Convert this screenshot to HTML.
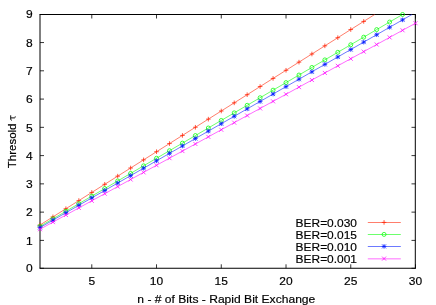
<!DOCTYPE html>
<html><head><meta charset="utf-8"><title>chart</title><style>
html,body{margin:0;padding:0;background:#fff;}
svg{display:block;}
text{font-family:"Liberation Sans",sans-serif;font-size:12px;fill:#000;stroke:#000;stroke-width:0.18px;}
</style></head><body>
<svg style="will-change:transform" width="436" height="305" viewBox="0 0 436 305">
<rect width="436" height="305" fill="#fff"/>
<path d="M39.5 14.5H415.8M39.5 268.25H415.8M40.0 14.5V268.3M415.3 14.5V268.3" stroke="#000" stroke-width="1" fill="none"/>
<path d="M40.0 268.30h4.0M415.5 268.30h-4.0" stroke="#000" stroke-width="0.8" fill="none"/>
<text transform="translate(32.60 272.10) scale(1.0 0.98)" text-anchor="end">0</text>
<path d="M40.0 240.40h4.0M415.5 240.40h-4.0" stroke="#000" stroke-width="0.8" fill="none"/>
<text transform="translate(32.60 244.70) scale(1.0 0.98)" text-anchor="end">1</text>
<path d="M40.0 212.13h4.0M415.5 212.13h-4.0" stroke="#000" stroke-width="0.8" fill="none"/>
<text transform="translate(32.60 216.43) scale(1.0 0.98)" text-anchor="end">2</text>
<path d="M40.0 183.87h4.0M415.5 183.87h-4.0" stroke="#000" stroke-width="0.8" fill="none"/>
<text transform="translate(32.60 188.17) scale(1.0 0.98)" text-anchor="end">3</text>
<path d="M40.0 155.60h4.0M415.5 155.60h-4.0" stroke="#000" stroke-width="0.8" fill="none"/>
<text transform="translate(32.60 159.90) scale(1.0 0.98)" text-anchor="end">4</text>
<path d="M40.0 127.34h4.0M415.5 127.34h-4.0" stroke="#000" stroke-width="0.8" fill="none"/>
<text transform="translate(32.60 131.64) scale(1.0 0.98)" text-anchor="end">5</text>
<path d="M40.0 99.08h4.0M415.5 99.08h-4.0" stroke="#000" stroke-width="0.8" fill="none"/>
<text transform="translate(32.60 103.38) scale(1.0 0.98)" text-anchor="end">6</text>
<path d="M40.0 70.81h4.0M415.5 70.81h-4.0" stroke="#000" stroke-width="0.8" fill="none"/>
<text transform="translate(32.60 75.11) scale(1.0 0.98)" text-anchor="end">7</text>
<path d="M40.0 42.55h4.0M415.5 42.55h-4.0" stroke="#000" stroke-width="0.8" fill="none"/>
<text transform="translate(32.60 46.85) scale(1.0 0.98)" text-anchor="end">8</text>
<path d="M40.0 14.50h4.0M415.5 14.50h-4.0" stroke="#000" stroke-width="0.8" fill="none"/>
<text transform="translate(32.60 18.40) scale(1.0 0.98)" text-anchor="end">9</text>
<path d="M91.79 268.3v-4.0M91.79 14.5v4.0" stroke="#000" stroke-width="0.8" fill="none"/>
<text transform="translate(91.79 285.00) scale(1.0 0.98)" text-anchor="middle">5</text>
<path d="M156.53 268.3v-4.0M156.53 14.5v4.0" stroke="#000" stroke-width="0.8" fill="none"/>
<text transform="translate(156.53 285.00) scale(1.0 0.98)" text-anchor="middle">10</text>
<path d="M221.28 268.3v-4.0M221.28 14.5v4.0" stroke="#000" stroke-width="0.8" fill="none"/>
<text transform="translate(221.28 285.00) scale(1.0 0.98)" text-anchor="middle">15</text>
<path d="M286.02 268.3v-4.0M286.02 14.5v4.0" stroke="#000" stroke-width="0.8" fill="none"/>
<text transform="translate(286.02 285.00) scale(1.0 0.98)" text-anchor="middle">20</text>
<path d="M350.76 268.3v-4.0M350.76 14.5v4.0" stroke="#000" stroke-width="0.8" fill="none"/>
<text transform="translate(350.76 285.00) scale(1.0 0.98)" text-anchor="middle">25</text>
<path d="M415.50 268.3v-4.0M415.50 14.5v4.0" stroke="#000" stroke-width="0.8" fill="none"/>
<text transform="translate(415.50 285.00) scale(1.0 0.98)" text-anchor="middle">30</text>
<text transform="translate(226.30 302.60) scale(1.0 0.98)" text-anchor="middle" textLength="178.00" lengthAdjust="spacingAndGlyphs">n - # of Bits - Rapid Bit Exchange</text>
<text transform="translate(15.60 168.30) rotate(-90) scale(1.0 0.98)" text-anchor="start" textLength="44.80" lengthAdjust="spacingAndGlyphs">Thresold</text>
<g transform="translate(15.7 120.7) rotate(-90)"><path d="M0.3 -4.0C0.5 -4.7 1.0 -5.0 1.7 -5.0L5.4 -5.0M2.8 -4.8L2.8 -1.5C2.8 -0.6 3.3 -0.35 4.3 -0.45" stroke="#000" stroke-width="0.95" fill="none"/></g>
<path d="M40.00 225.01L52.95 216.87L65.90 208.72L78.84 200.58L91.79 192.44L104.74 184.29L117.69 176.15L130.64 168.00L143.59 159.86L156.53 151.72L169.48 143.57L182.43 135.43L195.38 127.28L208.33 119.14L221.28 110.99L234.22 102.85L247.17 94.71L260.12 86.56L273.07 78.42L286.02 70.27L298.97 62.13L311.91 53.99L324.86 45.84L337.81 37.70L350.76 29.55L363.71 21.41L374.69 14.50" stroke="#ff2000" stroke-width="0.58" fill="none"/>
<path d="M37.70 225.01H42.30M40.00 222.71V227.31" stroke="#ff2000" stroke-width="0.75" fill="none"/>
<path d="M50.65 216.87H55.25M52.95 214.57V219.17" stroke="#ff2000" stroke-width="0.75" fill="none"/>
<path d="M63.60 208.72H68.20M65.90 206.42V211.02" stroke="#ff2000" stroke-width="0.75" fill="none"/>
<path d="M76.54 200.58H81.14M78.84 198.28V202.88" stroke="#ff2000" stroke-width="0.75" fill="none"/>
<path d="M89.49 192.44H94.09M91.79 190.14V194.74" stroke="#ff2000" stroke-width="0.75" fill="none"/>
<path d="M102.44 184.29H107.04M104.74 181.99V186.59" stroke="#ff2000" stroke-width="0.75" fill="none"/>
<path d="M115.39 176.15H119.99M117.69 173.85V178.45" stroke="#ff2000" stroke-width="0.75" fill="none"/>
<path d="M128.34 168.00H132.94M130.64 165.70V170.30" stroke="#ff2000" stroke-width="0.75" fill="none"/>
<path d="M141.29 159.86H145.89M143.59 157.56V162.16" stroke="#ff2000" stroke-width="0.75" fill="none"/>
<path d="M154.23 151.72H158.83M156.53 149.42V154.02" stroke="#ff2000" stroke-width="0.75" fill="none"/>
<path d="M167.18 143.57H171.78M169.48 141.27V145.87" stroke="#ff2000" stroke-width="0.75" fill="none"/>
<path d="M180.13 135.43H184.73M182.43 133.13V137.73" stroke="#ff2000" stroke-width="0.75" fill="none"/>
<path d="M193.08 127.28H197.68M195.38 124.98V129.58" stroke="#ff2000" stroke-width="0.75" fill="none"/>
<path d="M206.03 119.14H210.63M208.33 116.84V121.44" stroke="#ff2000" stroke-width="0.75" fill="none"/>
<path d="M218.98 110.99H223.58M221.28 108.69V113.29" stroke="#ff2000" stroke-width="0.75" fill="none"/>
<path d="M231.92 102.85H236.52M234.22 100.55V105.15" stroke="#ff2000" stroke-width="0.75" fill="none"/>
<path d="M244.87 94.71H249.47M247.17 92.41V97.01" stroke="#ff2000" stroke-width="0.75" fill="none"/>
<path d="M257.82 86.56H262.42M260.12 84.26V88.86" stroke="#ff2000" stroke-width="0.75" fill="none"/>
<path d="M270.77 78.42H275.37M273.07 76.12V80.72" stroke="#ff2000" stroke-width="0.75" fill="none"/>
<path d="M283.72 70.27H288.32M286.02 67.97V72.57" stroke="#ff2000" stroke-width="0.75" fill="none"/>
<path d="M296.67 62.13H301.27M298.97 59.83V64.43" stroke="#ff2000" stroke-width="0.75" fill="none"/>
<path d="M309.61 53.99H314.21M311.91 51.69V56.29" stroke="#ff2000" stroke-width="0.75" fill="none"/>
<path d="M322.56 45.84H327.16M324.86 43.54V48.14" stroke="#ff2000" stroke-width="0.75" fill="none"/>
<path d="M335.51 37.70H340.11M337.81 35.40V40.00" stroke="#ff2000" stroke-width="0.75" fill="none"/>
<path d="M348.46 29.55H353.06M350.76 27.25V31.85" stroke="#ff2000" stroke-width="0.75" fill="none"/>
<path d="M361.41 21.41H366.01M363.71 19.11V23.71" stroke="#ff2000" stroke-width="0.75" fill="none"/>
<path d="M40.00 226.39L52.95 218.83L65.90 211.26L78.84 203.69L91.79 196.12L104.74 188.55L117.69 180.98L130.64 173.41L143.59 165.84L156.53 158.27L169.48 150.71L182.43 143.14L195.38 135.57L208.33 128.00L221.28 120.43L234.22 112.86L247.17 105.29L260.12 97.72L273.07 90.15L286.02 82.59L298.97 75.02L311.91 67.45L324.86 59.88L337.81 52.31L350.76 44.74L363.71 37.17L376.66 29.60L389.60 22.04L402.49 14.50" stroke="#00ff00" stroke-width="0.58" fill="none"/>
<circle cx="40.00" cy="226.39" r="2.0" stroke="#00ff00" stroke-width="0.75" fill="none"/>
<circle cx="52.95" cy="218.83" r="2.0" stroke="#00ff00" stroke-width="0.75" fill="none"/>
<circle cx="65.90" cy="211.26" r="2.0" stroke="#00ff00" stroke-width="0.75" fill="none"/>
<circle cx="78.84" cy="203.69" r="2.0" stroke="#00ff00" stroke-width="0.75" fill="none"/>
<circle cx="91.79" cy="196.12" r="2.0" stroke="#00ff00" stroke-width="0.75" fill="none"/>
<circle cx="104.74" cy="188.55" r="2.0" stroke="#00ff00" stroke-width="0.75" fill="none"/>
<circle cx="117.69" cy="180.98" r="2.0" stroke="#00ff00" stroke-width="0.75" fill="none"/>
<circle cx="130.64" cy="173.41" r="2.0" stroke="#00ff00" stroke-width="0.75" fill="none"/>
<circle cx="143.59" cy="165.84" r="2.0" stroke="#00ff00" stroke-width="0.75" fill="none"/>
<circle cx="156.53" cy="158.27" r="2.0" stroke="#00ff00" stroke-width="0.75" fill="none"/>
<circle cx="169.48" cy="150.71" r="2.0" stroke="#00ff00" stroke-width="0.75" fill="none"/>
<circle cx="182.43" cy="143.14" r="2.0" stroke="#00ff00" stroke-width="0.75" fill="none"/>
<circle cx="195.38" cy="135.57" r="2.0" stroke="#00ff00" stroke-width="0.75" fill="none"/>
<circle cx="208.33" cy="128.00" r="2.0" stroke="#00ff00" stroke-width="0.75" fill="none"/>
<circle cx="221.28" cy="120.43" r="2.0" stroke="#00ff00" stroke-width="0.75" fill="none"/>
<circle cx="234.22" cy="112.86" r="2.0" stroke="#00ff00" stroke-width="0.75" fill="none"/>
<circle cx="247.17" cy="105.29" r="2.0" stroke="#00ff00" stroke-width="0.75" fill="none"/>
<circle cx="260.12" cy="97.72" r="2.0" stroke="#00ff00" stroke-width="0.75" fill="none"/>
<circle cx="273.07" cy="90.15" r="2.0" stroke="#00ff00" stroke-width="0.75" fill="none"/>
<circle cx="286.02" cy="82.59" r="2.0" stroke="#00ff00" stroke-width="0.75" fill="none"/>
<circle cx="298.97" cy="75.02" r="2.0" stroke="#00ff00" stroke-width="0.75" fill="none"/>
<circle cx="311.91" cy="67.45" r="2.0" stroke="#00ff00" stroke-width="0.75" fill="none"/>
<circle cx="324.86" cy="59.88" r="2.0" stroke="#00ff00" stroke-width="0.75" fill="none"/>
<circle cx="337.81" cy="52.31" r="2.0" stroke="#00ff00" stroke-width="0.75" fill="none"/>
<circle cx="350.76" cy="44.74" r="2.0" stroke="#00ff00" stroke-width="0.75" fill="none"/>
<circle cx="363.71" cy="37.17" r="2.0" stroke="#00ff00" stroke-width="0.75" fill="none"/>
<circle cx="376.66" cy="29.60" r="2.0" stroke="#00ff00" stroke-width="0.75" fill="none"/>
<circle cx="389.60" cy="22.04" r="2.0" stroke="#00ff00" stroke-width="0.75" fill="none"/>
<circle cx="402.55" cy="14.47" r="2.0" stroke="#00ff00" stroke-width="0.75" fill="none"/>
<path d="M40.00 227.55L52.95 220.13L65.90 212.72L78.84 205.30L91.79 197.88L104.74 190.47L117.69 183.05L130.64 175.63L143.59 168.22L156.53 160.80L169.48 153.38L182.43 145.97L195.38 138.55L208.33 131.14L221.28 123.72L234.22 116.30L247.17 108.89L260.12 101.47L273.07 94.05L286.02 86.64L298.97 79.22L311.91 71.80L324.86 64.39L337.81 56.97L350.76 49.55L363.71 42.14L376.66 34.72L389.60 27.30L402.55 19.89L411.96 14.50" stroke="#0018ff" stroke-width="0.58" fill="none"/>
<path d="M37.70 227.55H42.30M40.00 225.25V229.85" stroke="#0018ff" stroke-width="0.75" fill="none"/><path d="M38.00 225.55L42.00 229.55M38.00 229.55L42.00 225.55" stroke="#0018ff" stroke-width="0.75" fill="none"/>
<path d="M50.65 220.13H55.25M52.95 217.83V222.43" stroke="#0018ff" stroke-width="0.75" fill="none"/><path d="M50.95 218.13L54.95 222.13M50.95 222.13L54.95 218.13" stroke="#0018ff" stroke-width="0.75" fill="none"/>
<path d="M63.60 212.72H68.20M65.90 210.42V215.02" stroke="#0018ff" stroke-width="0.75" fill="none"/><path d="M63.90 210.72L67.90 214.72M63.90 214.72L67.90 210.72" stroke="#0018ff" stroke-width="0.75" fill="none"/>
<path d="M76.54 205.30H81.14M78.84 203.00V207.60" stroke="#0018ff" stroke-width="0.75" fill="none"/><path d="M76.84 203.30L80.84 207.30M76.84 207.30L80.84 203.30" stroke="#0018ff" stroke-width="0.75" fill="none"/>
<path d="M89.49 197.88H94.09M91.79 195.58V200.18" stroke="#0018ff" stroke-width="0.75" fill="none"/><path d="M89.79 195.88L93.79 199.88M89.79 199.88L93.79 195.88" stroke="#0018ff" stroke-width="0.75" fill="none"/>
<path d="M102.44 190.47H107.04M104.74 188.17V192.77" stroke="#0018ff" stroke-width="0.75" fill="none"/><path d="M102.74 188.47L106.74 192.47M102.74 192.47L106.74 188.47" stroke="#0018ff" stroke-width="0.75" fill="none"/>
<path d="M115.39 183.05H119.99M117.69 180.75V185.35" stroke="#0018ff" stroke-width="0.75" fill="none"/><path d="M115.69 181.05L119.69 185.05M115.69 185.05L119.69 181.05" stroke="#0018ff" stroke-width="0.75" fill="none"/>
<path d="M128.34 175.63H132.94M130.64 173.33V177.93" stroke="#0018ff" stroke-width="0.75" fill="none"/><path d="M128.64 173.63L132.64 177.63M128.64 177.63L132.64 173.63" stroke="#0018ff" stroke-width="0.75" fill="none"/>
<path d="M141.29 168.22H145.89M143.59 165.92V170.52" stroke="#0018ff" stroke-width="0.75" fill="none"/><path d="M141.59 166.22L145.59 170.22M141.59 170.22L145.59 166.22" stroke="#0018ff" stroke-width="0.75" fill="none"/>
<path d="M154.23 160.80H158.83M156.53 158.50V163.10" stroke="#0018ff" stroke-width="0.75" fill="none"/><path d="M154.53 158.80L158.53 162.80M154.53 162.80L158.53 158.80" stroke="#0018ff" stroke-width="0.75" fill="none"/>
<path d="M167.18 153.38H171.78M169.48 151.08V155.69" stroke="#0018ff" stroke-width="0.75" fill="none"/><path d="M167.48 151.38L171.48 155.38M167.48 155.38L171.48 151.38" stroke="#0018ff" stroke-width="0.75" fill="none"/>
<path d="M180.13 145.97H184.73M182.43 143.67V148.27" stroke="#0018ff" stroke-width="0.75" fill="none"/><path d="M180.43 143.97L184.43 147.97M180.43 147.97L184.43 143.97" stroke="#0018ff" stroke-width="0.75" fill="none"/>
<path d="M193.08 138.55H197.68M195.38 136.25V140.85" stroke="#0018ff" stroke-width="0.75" fill="none"/><path d="M193.38 136.55L197.38 140.55M193.38 140.55L197.38 136.55" stroke="#0018ff" stroke-width="0.75" fill="none"/>
<path d="M206.03 131.14H210.63M208.33 128.84V133.44" stroke="#0018ff" stroke-width="0.75" fill="none"/><path d="M206.33 129.14L210.33 133.14M206.33 133.14L210.33 129.14" stroke="#0018ff" stroke-width="0.75" fill="none"/>
<path d="M218.98 123.72H223.58M221.28 121.42V126.02" stroke="#0018ff" stroke-width="0.75" fill="none"/><path d="M219.28 121.72L223.28 125.72M219.28 125.72L223.28 121.72" stroke="#0018ff" stroke-width="0.75" fill="none"/>
<path d="M231.92 116.30H236.52M234.22 114.00V118.60" stroke="#0018ff" stroke-width="0.75" fill="none"/><path d="M232.22 114.30L236.22 118.30M232.22 118.30L236.22 114.30" stroke="#0018ff" stroke-width="0.75" fill="none"/>
<path d="M244.87 108.89H249.47M247.17 106.59V111.19" stroke="#0018ff" stroke-width="0.75" fill="none"/><path d="M245.17 106.89L249.17 110.89M245.17 110.89L249.17 106.89" stroke="#0018ff" stroke-width="0.75" fill="none"/>
<path d="M257.82 101.47H262.42M260.12 99.17V103.77" stroke="#0018ff" stroke-width="0.75" fill="none"/><path d="M258.12 99.47L262.12 103.47M258.12 103.47L262.12 99.47" stroke="#0018ff" stroke-width="0.75" fill="none"/>
<path d="M270.77 94.05H275.37M273.07 91.75V96.35" stroke="#0018ff" stroke-width="0.75" fill="none"/><path d="M271.07 92.05L275.07 96.05M271.07 96.05L275.07 92.05" stroke="#0018ff" stroke-width="0.75" fill="none"/>
<path d="M283.72 86.64H288.32M286.02 84.34V88.94" stroke="#0018ff" stroke-width="0.75" fill="none"/><path d="M284.02 84.64L288.02 88.64M284.02 88.64L288.02 84.64" stroke="#0018ff" stroke-width="0.75" fill="none"/>
<path d="M296.67 79.22H301.27M298.97 76.92V81.52" stroke="#0018ff" stroke-width="0.75" fill="none"/><path d="M296.97 77.22L300.97 81.22M296.97 81.22L300.97 77.22" stroke="#0018ff" stroke-width="0.75" fill="none"/>
<path d="M309.61 71.80H314.21M311.91 69.50V74.10" stroke="#0018ff" stroke-width="0.75" fill="none"/><path d="M309.91 69.80L313.91 73.80M309.91 73.80L313.91 69.80" stroke="#0018ff" stroke-width="0.75" fill="none"/>
<path d="M322.56 64.39H327.16M324.86 62.09V66.69" stroke="#0018ff" stroke-width="0.75" fill="none"/><path d="M322.86 62.39L326.86 66.39M322.86 66.39L326.86 62.39" stroke="#0018ff" stroke-width="0.75" fill="none"/>
<path d="M335.51 56.97H340.11M337.81 54.67V59.27" stroke="#0018ff" stroke-width="0.75" fill="none"/><path d="M335.81 54.97L339.81 58.97M335.81 58.97L339.81 54.97" stroke="#0018ff" stroke-width="0.75" fill="none"/>
<path d="M348.46 49.55H353.06M350.76 47.25V51.85" stroke="#0018ff" stroke-width="0.75" fill="none"/><path d="M348.76 47.55L352.76 51.55M348.76 51.55L352.76 47.55" stroke="#0018ff" stroke-width="0.75" fill="none"/>
<path d="M361.41 42.14H366.01M363.71 39.84V44.44" stroke="#0018ff" stroke-width="0.75" fill="none"/><path d="M361.71 40.14L365.71 44.14M361.71 44.14L365.71 40.14" stroke="#0018ff" stroke-width="0.75" fill="none"/>
<path d="M374.36 34.72H378.96M376.66 32.42V37.02" stroke="#0018ff" stroke-width="0.75" fill="none"/><path d="M374.66 32.72L378.66 36.72M374.66 36.72L378.66 32.72" stroke="#0018ff" stroke-width="0.75" fill="none"/>
<path d="M387.30 27.30H391.90M389.60 25.00V29.60" stroke="#0018ff" stroke-width="0.75" fill="none"/><path d="M387.60 25.30L391.60 29.30M387.60 29.30L391.60 25.30" stroke="#0018ff" stroke-width="0.75" fill="none"/>
<path d="M400.25 19.89H404.85M402.55 17.59V22.19" stroke="#0018ff" stroke-width="0.75" fill="none"/><path d="M400.55 17.89L404.55 21.89M400.55 21.89L404.55 17.89" stroke="#0018ff" stroke-width="0.75" fill="none"/>
<path d="M40.00 229.21L52.95 222.11L65.90 215.01L78.84 207.90L91.79 200.80L104.74 193.70L117.69 186.59L130.64 179.49L143.59 172.39L156.53 165.28L169.48 158.18L182.43 151.08L195.38 143.97L208.33 136.87L221.28 129.76L234.22 122.66L247.17 115.56L260.12 108.45L273.07 101.35L286.02 94.25L298.97 87.14L311.91 80.04L324.86 72.94L337.81 65.83L350.76 58.73L363.71 51.63L376.66 44.52L389.60 37.42L402.55 30.31L415.50 23.21" stroke="#ff00ff" stroke-width="0.58" fill="none"/>
<path d="M38.00 227.21L42.00 231.21M38.00 231.21L42.00 227.21" stroke="#ff00ff" stroke-width="0.75" fill="none"/>
<path d="M50.95 220.11L54.95 224.11M50.95 224.11L54.95 220.11" stroke="#ff00ff" stroke-width="0.75" fill="none"/>
<path d="M63.90 213.01L67.90 217.01M63.90 217.01L67.90 213.01" stroke="#ff00ff" stroke-width="0.75" fill="none"/>
<path d="M76.84 205.90L80.84 209.90M76.84 209.90L80.84 205.90" stroke="#ff00ff" stroke-width="0.75" fill="none"/>
<path d="M89.79 198.80L93.79 202.80M89.79 202.80L93.79 198.80" stroke="#ff00ff" stroke-width="0.75" fill="none"/>
<path d="M102.74 191.70L106.74 195.70M102.74 195.70L106.74 191.70" stroke="#ff00ff" stroke-width="0.75" fill="none"/>
<path d="M115.69 184.59L119.69 188.59M115.69 188.59L119.69 184.59" stroke="#ff00ff" stroke-width="0.75" fill="none"/>
<path d="M128.64 177.49L132.64 181.49M128.64 181.49L132.64 177.49" stroke="#ff00ff" stroke-width="0.75" fill="none"/>
<path d="M141.59 170.39L145.59 174.39M141.59 174.39L145.59 170.39" stroke="#ff00ff" stroke-width="0.75" fill="none"/>
<path d="M154.53 163.28L158.53 167.28M154.53 167.28L158.53 163.28" stroke="#ff00ff" stroke-width="0.75" fill="none"/>
<path d="M167.48 156.18L171.48 160.18M167.48 160.18L171.48 156.18" stroke="#ff00ff" stroke-width="0.75" fill="none"/>
<path d="M180.43 149.08L184.43 153.08M180.43 153.08L184.43 149.08" stroke="#ff00ff" stroke-width="0.75" fill="none"/>
<path d="M193.38 141.97L197.38 145.97M193.38 145.97L197.38 141.97" stroke="#ff00ff" stroke-width="0.75" fill="none"/>
<path d="M206.33 134.87L210.33 138.87M206.33 138.87L210.33 134.87" stroke="#ff00ff" stroke-width="0.75" fill="none"/>
<path d="M219.28 127.76L223.28 131.76M219.28 131.76L223.28 127.76" stroke="#ff00ff" stroke-width="0.75" fill="none"/>
<path d="M232.22 120.66L236.22 124.66M232.22 124.66L236.22 120.66" stroke="#ff00ff" stroke-width="0.75" fill="none"/>
<path d="M245.17 113.56L249.17 117.56M245.17 117.56L249.17 113.56" stroke="#ff00ff" stroke-width="0.75" fill="none"/>
<path d="M258.12 106.45L262.12 110.45M258.12 110.45L262.12 106.45" stroke="#ff00ff" stroke-width="0.75" fill="none"/>
<path d="M271.07 99.35L275.07 103.35M271.07 103.35L275.07 99.35" stroke="#ff00ff" stroke-width="0.75" fill="none"/>
<path d="M284.02 92.25L288.02 96.25M284.02 96.25L288.02 92.25" stroke="#ff00ff" stroke-width="0.75" fill="none"/>
<path d="M296.97 85.14L300.97 89.14M296.97 89.14L300.97 85.14" stroke="#ff00ff" stroke-width="0.75" fill="none"/>
<path d="M309.91 78.04L313.91 82.04M309.91 82.04L313.91 78.04" stroke="#ff00ff" stroke-width="0.75" fill="none"/>
<path d="M322.86 70.94L326.86 74.94M322.86 74.94L326.86 70.94" stroke="#ff00ff" stroke-width="0.75" fill="none"/>
<path d="M335.81 63.83L339.81 67.83M335.81 67.83L339.81 63.83" stroke="#ff00ff" stroke-width="0.75" fill="none"/>
<path d="M348.76 56.73L352.76 60.73M348.76 60.73L352.76 56.73" stroke="#ff00ff" stroke-width="0.75" fill="none"/>
<path d="M361.71 49.63L365.71 53.63M361.71 53.63L365.71 49.63" stroke="#ff00ff" stroke-width="0.75" fill="none"/>
<path d="M374.66 42.52L378.66 46.52M374.66 46.52L378.66 42.52" stroke="#ff00ff" stroke-width="0.75" fill="none"/>
<path d="M387.60 35.42L391.60 39.42M387.60 39.42L391.60 35.42" stroke="#ff00ff" stroke-width="0.75" fill="none"/>
<path d="M400.55 28.31L404.55 32.31M400.55 32.31L404.55 28.31" stroke="#ff00ff" stroke-width="0.75" fill="none"/>
<path d="M413.50 21.21L417.50 25.21M413.50 25.21L417.50 21.21" stroke="#ff00ff" stroke-width="0.75" fill="none"/>
<path d="M367.8 222.5H400.8" stroke="#ff2000" stroke-width="0.58" fill="none"/>
<path d="M381.75 222.40H386.35M384.05 220.10V224.70" stroke="#ff2000" stroke-width="0.75" fill="none"/>
<text transform="translate(357.00 226.50) scale(1.0 0.98)" text-anchor="end" textLength="61.40" lengthAdjust="spacingAndGlyphs">BER=0.030</text>
<path d="M367.8 234.5H400.8" stroke="#00ff00" stroke-width="0.58" fill="none"/>
<circle cx="384.05" cy="234.40" r="2.0" stroke="#00ff00" stroke-width="0.75" fill="none"/>
<text transform="translate(357.00 238.50) scale(1.0 0.98)" text-anchor="end" textLength="61.40" lengthAdjust="spacingAndGlyphs">BER=0.015</text>
<path d="M367.8 246.5H400.8" stroke="#0018ff" stroke-width="0.58" fill="none"/>
<path d="M381.75 246.40H386.35M384.05 244.10V248.70" stroke="#0018ff" stroke-width="0.75" fill="none"/><path d="M382.05 244.40L386.05 248.40M382.05 248.40L386.05 244.40" stroke="#0018ff" stroke-width="0.75" fill="none"/>
<text transform="translate(357.00 250.50) scale(1.0 0.98)" text-anchor="end" textLength="61.40" lengthAdjust="spacingAndGlyphs">BER=0.010</text>
<path d="M367.8 258.84999999999997H400.8" stroke="#ff00ff" stroke-width="0.58" fill="none"/>
<path d="M382.05 256.60L386.05 260.60M382.05 260.60L386.05 256.60" stroke="#ff00ff" stroke-width="0.75" fill="none"/>
<text transform="translate(357.00 262.70) scale(1.0 0.98)" text-anchor="end" textLength="61.40" lengthAdjust="spacingAndGlyphs">BER=0.001</text>
</svg>
</body></html>
